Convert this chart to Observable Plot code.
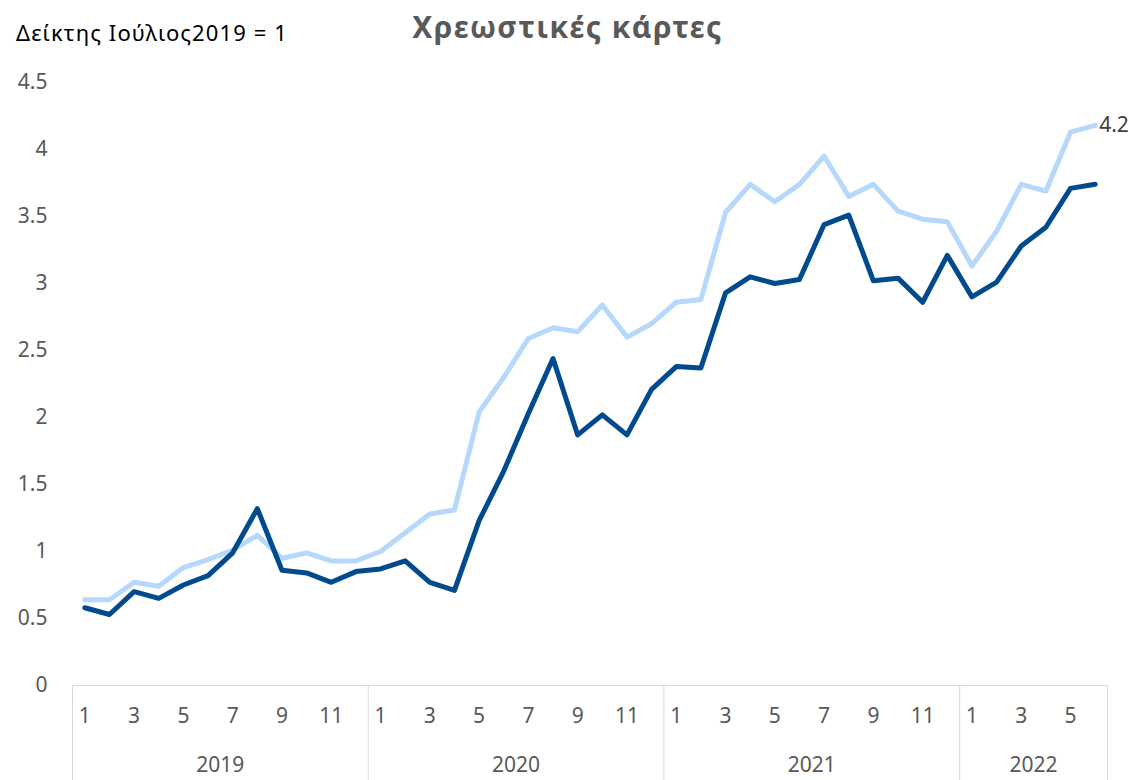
<!DOCTYPE html>
<html>
<head>
<meta charset="utf-8">
<script src="https://cdn.jsdelivr.net/npm/d3@7"></script>
<script src="https://cdn.jsdelivr.net/npm/@observablehq/plot@0.6"></script>
<style>
  html, body { margin: 0; padding: 0; background: #fff; }
  #wrap { position: relative; width: 1129px; height: 780px; font-family: "Noto Sans", sans-serif; }
  #header { position: relative; width: 1129px; height: 60px; }
  #title { position: absolute; left: 0; width: 1135px; top: 7px; text-align: center; font-size: 30px; font-weight: bold; letter-spacing: 1.4px; color: #595959; line-height: 40px; }
  #ylabel { position: absolute; left: 16px; top: 16px; font-size: 22px; letter-spacing: 1.1px; color: #000; line-height: 32px; }
</style>
</head>
<body>
<div id="wrap">
  <div id="header">
    <div id="title">Χρεωστικές κάρτες</div>
    <div id="ylabel">Δείκτης Ιούλιος2019 = 1</div>
  </div>
  <div id="chart"></div>
</div>
<script>
// ---- data ----
const years = ["2019", "2020", "2021", "2022"];
const monthsPerYear = [12, 12, 12, 6];
const monthLabels = ["1","2","3","4","5","6","7","8","9","10","11","12"];
const shownMonthLabels = ["1","3","5","7","9","11"];
const yTicks = [0, 0.5, 1, 1.5, 2, 2.5, 3, 3.5, 4, 4.5];

const seriesLight = [
  0.64, 0.64, 0.77, 0.74, 0.88, 0.94, 1.01, 1.12, 0.95, 0.99, 0.93, 0.93,
  1.00, 1.14, 1.28, 1.31, 2.04, 2.30, 2.59, 2.67, 2.64, 2.84, 2.60, 2.70,
  2.86, 2.88, 3.53, 3.74, 3.61, 3.74, 3.95, 3.65, 3.74, 3.54, 3.48, 3.46,
  3.13, 3.39, 3.74, 3.69, 4.13, 4.18
];
const seriesDark = [
  0.58, 0.53, 0.70, 0.65, 0.75, 0.82, 0.99, 1.32, 0.86, 0.84, 0.77, 0.85,
  0.87, 0.93, 0.77, 0.71, 1.23, 1.60, 2.03, 2.44, 1.87, 2.02, 1.87, 2.21,
  2.38, 2.37, 2.93, 3.05, 3.00, 3.03, 3.44, 3.51, 3.02, 3.04, 2.86, 3.21,
  2.90, 3.01, 3.28, 3.42, 3.71, 3.74
];
const endLabel = "4.2";

// ---- build table ----
const rows = [];
years.forEach((y, yi) => {
  for (let m = 0; m < monthsPerYear[yi]; m++) rows.push({year: y, month: monthLabels[m]});
});
rows.forEach((r, i) => { r.i = i; r.light = seriesLight[i]; r.dark = seriesDark[i]; });

const monthTicks = rows.filter(r => shownMonthLabels.includes(r.month)).map(r => r.i);
const yearStarts = [];
let acc = 0;
monthsPerYear.forEach(n => { yearStarts.push(acc); acc += n; });
const groupBounds = [...yearStarts.map(s => s - 0.5), acc - 0.5];
const yearCenters = yearStarts.map((s, k) => s + (monthsPerYear[k] - 1) / 2);

const last = rows[rows.length - 1];

const chart = Plot.plot({
  width: 1129,
  height: 720,
  marginTop: 22,
  marginBottom: 95,
  marginLeft: 72,
  marginRight: 22,
  style: { fontFamily: "Noto Sans, sans-serif", fontSize: "21px", color: "#595959", background: "#fff" },
  x: { type: "linear", domain: [-0.5, rows.length - 0.5], label: null },
  y: { domain: [0, 4.5], label: null },
  marks: [
    Plot.axisY(yTicks, { tickSize: 0, tickPadding: 25, tickFormat: d => String(d), fill: "#595959", fontSize: 21, label: null }),
    Plot.axisX(groupBounds, { tickSize: 95, stroke: "#d9d9d9", strokeOpacity: 1, tickFormat: () => "", label: null }),
    Plot.axisX(monthTicks, { tickSize: 0, tickPadding: 23, tickFormat: i => rows[i].month, fill: "#595959", fontSize: 21, label: null }),
    Plot.axisX(yearCenters, { tickSize: 0, tickPadding: 72, tickFormat: (d, k) => years[k], fill: "#595959", fontSize: 21, label: null }),
    Plot.ruleY([0], { stroke: "#d9d9d9", strokeWidth: 1.2 }),
    Plot.line(rows, { x: "i", y: "light", stroke: "#B5D8FC", strokeWidth: 5, strokeLinejoin: "round", strokeLinecap: "round" }),
    Plot.line(rows, { x: "i", y: "dark", stroke: "#004A8D", strokeWidth: 5, strokeLinejoin: "round", strokeLinecap: "round" }),
    Plot.text([last], { x: "i", y: "light", text: () => endLabel, textAnchor: "start", dx: 4, fill: "#404040", fontSize: 21 })
  ]
});
document.getElementById("chart").appendChild(chart);
</script>
</body>
</html>
